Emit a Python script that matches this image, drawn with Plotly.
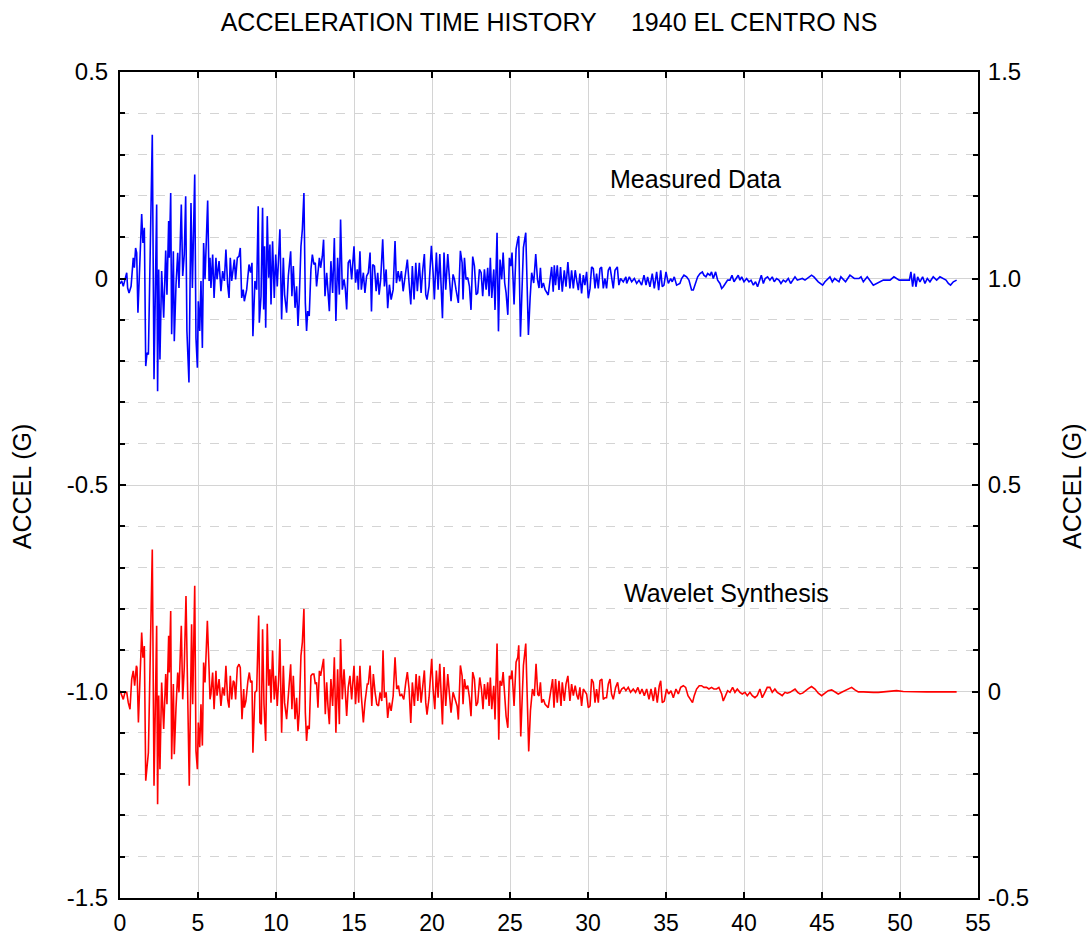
import plotly.graph_objects as go

# ---------------- data (time in s, acceleration in G) ----------------
measured_t = [
    0.00, 0.11, 0.21, 0.32, 0.43, 0.49, 0.58, 0.71, 0.85, 0.92, 1.00, 1.07, 1.15, 1.39, 1.47, 1.56,
    1.65, 1.73, 1.82, 2.07, 2.18, 2.35, 2.41, 2.48, 2.56, 2.67, 2.80, 2.93, 3.01, 3.12, 3.16, 3.25,
    3.31, 3.42, 3.48, 3.59, 3.70, 3.78, 3.93, 4.02, 4.12, 4.21, 4.29, 4.42, 4.55, 4.64, 4.79, 4.87,
    4.96, 5.02, 5.11, 5.19, 5.28, 5.36, 5.45, 5.62, 5.71, 5.77, 5.83, 5.94, 6.03, 6.15, 6.22, 6.35,
    6.47, 6.58, 6.69, 6.79, 6.90, 6.99, 7.07, 7.16, 7.26, 7.33, 7.41, 7.52, 7.63, 7.71, 7.80,
    7.90, 7.97, 8.12, 8.27, 8.37, 8.46, 8.52, 8.65, 8.76, 8.86, 8.93, 9.04, 9.14, 9.21, 9.27, 9.34,
    9.44, 9.53, 9.61, 9.68, 9.78, 9.89, 9.98, 10.08, 10.17, 10.25, 10.36, 10.47, 10.55, 10.68, 10.79,
    10.94, 11.02, 11.11, 11.22, 11.32, 11.41, 11.49, 11.60, 11.69, 11.79, 11.88, 11.96, 12.03, 12.13,
    12.24, 12.33, 12.43, 12.52, 12.60, 12.69, 12.78, 12.86, 12.97, 13.05, 13.14, 13.25, 13.33, 13.42,
    13.52, 13.63, 13.74, 13.84, 13.95, 14.06, 14.14, 14.25, 14.36, 14.44, 14.53, 14.63, 14.74, 14.85,
    15.00, 15.10, 15.21, 15.28, 15.38, 15.47, 15.60, 15.70, 15.81,
    15.92, 16.03, 16.12, 16.20, 16.31, 16.42, 16.52, 16.61, 16.71, 16.84, 16.95, 17.06, 17.16, 17.27,
    17.38, 17.51, 17.63, 17.72, 17.83, 17.93, 18.04, 18.15, 18.27, 18.42, 18.53, 18.64, 18.74, 18.85,
    18.96, 19.06, 19.19, 19.30, 19.41, 19.51, 19.60, 19.68, 19.81, 19.96, 20.07, 20.15, 20.28, 20.39,
    20.50, 20.58, 20.67, 20.77, 20.88, 21.01, 21.12, 21.22, 21.35, 21.44, 21.54, 21.69, 21.82, 21.93,
    21.99, 22.08, 22.18, 22.29, 22.40, 22.50, 22.61, 22.72, 22.83, 22.93, 23.04, 23.15, 23.25, 23.36,
    23.47, 23.57, 23.66, 23.74, 23.83, 23.96, 24.04, 24.17, 24.26, 24.36, 24.47, 24.56, 24.66, 24.75,
    24.86, 24.96, 25.05, 25.13, 25.26, 25.39, 25.50, 25.56, 25.67, 25.75, 25.86, 26.01, 26.18, 26.29,
    26.39, 26.52, 26.65, 26.76, 26.86, 26.95, 27.03, 27.14, 27.25,
    27.45, 27.56, 27.67, 27.77, 27.84, 27.92, 28.03, 28.14, 28.24, 28.35, 28.48, 28.59, 28.71, 28.84,
    28.95, 29.06, 29.18, 29.29, 29.38, 29.48, 29.59, 29.70, 29.80, 29.91, 30.02, 30.13, 30.23, 30.34,
    30.45, 30.55, 30.66, 30.77, 30.87, 30.98, 31.09, 31.19, 31.30, 31.41, 31.51, 31.62, 31.73, 31.88,
    31.98, 32.09, 32.26, 32.43, 32.48, 32.65, 32.80, 32.97, 33.12, 33.27, 33.44, 33.59, 33.72, 33.82,
    33.97, 34.12, 34.25, 34.40, 34.53, 34.66, 34.76, 34.87, 35.00, 35.15, 35.30, 35.40, 35.53, 35.68,
    35.89, 36.00, 36.15, 36.32, 36.47, 36.64, 36.75, 36.90, 37.03, 37.18, 37.33, 37.43, 37.56, 37.67,
    37.82, 37.92, 38.03, 38.18, 38.31, 38.46, 38.57, 38.67, 38.82, 38.95, 39.10, 39.23, 39.36, 39.48,
    39.63, 39.74, 39.85, 40.00, 40.17, 40.32, 40.45, 40.60, 40.74, 40.87, 40.98, 41.11, 41.24, 41.36,
    41.51, 41.66, 41.81, 41.94, 42.09, 42.24, 42.37, 42.52, 42.67, 42.84, 42.99, 43.12, 43.27, 43.42,
    43.74, 43.91, 44.19, 44.33, 44.48, 44.76, 45.04, 45.19, 45.51, 45.66, 45.81, 46.09, 46.21, 46.51,
    46.79, 47.07, 47.37, 47.50, 47.65, 47.90, 48.29, 48.50, 48.93, 49.36, 49.61, 49.95, 50.25, 50.60,
    50.70, 50.81, 50.92, 51.02, 51.13, 51.28, 51.45, 51.60, 51.75, 51.92, 52.13, 52.35, 52.56, 52.77,
    52.95, 53.10, 53.24, 53.42, 53.63,
]
measured_a = [
    -0.013, -0.006, -0.019, -0.002, 0.014, -0.023, -0.035, -0.019, 0.050, 0.026, 0.074, 0.062, -0.083, 0.156, 0.086, 0.123,
    -0.212, -0.180, -0.184, 0.348, -0.244, 0.179, -0.273, 0.022, -0.196, 0.018, -0.095, 0.068, -0.039, 0.139, 0.050, 0.207,
    -0.135, 0.066, -0.152, -0.015, 0.062, -0.023, 0.179, 0.006, 0.058, 0.199, -0.127, -0.252, 0.183, -0.023, 0.252, -0.144,
    -0.216, -0.055, -0.127, -0.006, -0.168, 0.086, -0.002, 0.189, -0.006, 0.050, -0.023, 0.058, -0.047, 0.050, -0.002, 0.042,
    -0.031, 0.018, -0.006, 0.070, -0.015, -0.047, 0.050, -0.006, 0.026, 0.046, -0.002, 0.050, 0.054, 0.074, -0.047,
    -0.027, -0.055, -0.027, 0.034, 0.014, 0.038, -0.140, -0.006, -0.027, 0.175, -0.107, -0.043, 0.171, -0.075, 0.078, -0.119,
    0.151, 0.002, 0.082, -0.063, 0.090, -0.047, 0.058, -0.019, 0.038, 0.119, -0.099, 0.050, -0.039, -0.083, 0.006,
    0.066, -0.043, 0.030, -0.071, -0.019, -0.115, -0.051, 0.078, 0.119, 0.207, -0.059, -0.127, -0.079, -0.091,
    0.022, 0.058, 0.034, 0.038, -0.019, 0.014, 0.050, 0.026, 0.054, 0.094, -0.043, 0.014, -0.035, -0.079,
    0.042, -0.035, 0.098, -0.103, 0.050, -0.039, 0.143, -0.027, -0.002, -0.023, -0.075, 0.038, 0.046, -0.002,
    0.078, -0.010, 0.022, -0.027, 0.066, -0.027, 0.014, -0.035, 0.006,
    0.014, 0.063, -0.080, 0.034, 0.030, -0.031, 0.014, -0.039, -0.002, 0.095, -0.019, 0.022, -0.072, -0.015,
    -0.051, -0.027, 0.091, -0.011, 0.018, -0.007, 0.018, -0.031, 0.010, 0.046, -0.011, -0.063, 0.030, -0.051,
    0.038, -0.031, 0.038, -0.035, 0.022, 0.059, -0.039, -0.051, -0.019, 0.079, 0.014, -0.051, 0.063, -0.027,
    0.059, -0.019, -0.096, 0.063, -0.027, 0.059, -0.015, -0.055, 0.010, -0.002, -0.027, -0.059, 0.067, 0.038,
    -0.051, 0.050, -0.002, 0.002, -0.019, -0.076, 0.053, 0.030, -0.039, -0.035, 0.022, 0.014, -0.043, 0.022,
    -0.027, 0.026, -0.043, 0.050, -0.047, 0.022, -0.076, 0.111, -0.128, 0.046, -0.002, 0.063, -0.011, -0.035,
    -0.088, 0.050, 0.030, 0.063, -0.063, 0.071, 0.095, 0.103, -0.141, -0.043, 0.075, 0.111, -0.137, -0.047,
    0.014, -0.011, 0.059, -0.002, -0.023, 0.026, -0.023, -0.011, -0.027,
    -0.040, 0.000, 0.028, -0.032, 0.032, -0.016, 0.032, -0.028, 0.028, -0.032, 0.020, -0.020, 0.040, -0.024,
    0.020, -0.024, 0.020, -0.008, -0.028, 0.012, -0.036, 0.008, -0.016, 0.016, -0.048, -0.024, 0.028, 0.024,
    -0.024, 0.012, -0.024, 0.024, 0.028, -0.024, 0.000, -0.024, 0.020, 0.028, -0.004, -0.024, 0.020, 0.028,
    -0.016, 0.000, -0.008, 0.004, -0.012, 0.004, -0.008, 0.000, -0.012, -0.004, -0.016, 0.008, -0.016, 0.004,
    -0.020, 0.012, -0.024, 0.016, -0.028, 0.020, -0.020, -0.016, 0.016, -0.012, 0.000, -0.008, 0.004, -0.016,
    -0.012, 0.000, 0.008, 0.004, -0.004, -0.028, -0.028, -0.008, 0.004, 0.012, 0.016, 0.008, 0.004, 0.012,
    0.008, 0.016, 0.000, 0.016, -0.004, -0.012, -0.024, -0.020, -0.012, -0.004, -0.004, 0.008, -0.008, 0.000,
    0.008, -0.004, 0.004, -0.008, 0.000, -0.008, -0.004, -0.016, -0.008, -0.020, -0.004, 0.008, -0.012, 0.000,
    0.004, -0.004, 0.004, -0.008, 0.000, -0.004, -0.012, -0.004, -0.008, 0.000, -0.012, -0.004, 0.004, -0.004,
    0.000, -0.004, 0.004, 0.008, 0.004, -0.008, -0.016, -0.008, 0.004, -0.008, 0.000, -0.008, 0.004, -0.008,
    0.008, 0.000, 0.000, 0.004, -0.008, 0.004, -0.016, -0.012, -0.004, -0.004, 0.004, -0.004, -0.004, -0.004,
    0.016, -0.020, 0.012, -0.020, 0.004, -0.008, 0.004, -0.012, 0.000, -0.008, 0.004, -0.004, 0.004, 0.000,
    -0.004, -0.012, -0.016, -0.008, -0.004,
]

synth_t = [
    0.00, 0.11, 0.21, 0.32, 0.43, 0.53, 0.64, 0.75, 0.85, 0.94, 1.05, 1.09, 1.18, 1.39, 1.47, 1.56,
    1.65, 1.73, 1.82, 2.07, 2.18, 2.35, 2.41, 2.48, 2.56, 2.67, 2.80, 2.93, 3.01, 3.12, 3.16, 3.25,
    3.31, 3.42, 3.48, 3.59, 3.70, 3.78, 3.93, 4.02, 4.12, 4.23, 4.34, 4.44, 4.59, 4.66, 4.79, 4.87,
    4.96, 5.02, 5.11, 5.19, 5.28, 5.36, 5.45, 5.60, 5.71, 5.77, 5.83, 5.94, 6.03, 6.15, 6.22, 6.35,
    6.47, 6.58, 6.69, 6.79, 6.90, 6.99, 7.07, 7.16, 7.26, 7.33, 7.41, 7.52, 7.63, 7.71, 7.82, 7.93,
    7.97, 8.07, 8.20, 8.29, 8.37, 8.46, 8.52, 8.65, 8.76, 8.89, 8.97, 9.06, 9.14, 9.23, 9.34,
    9.44, 9.53, 9.61, 9.68, 9.78, 9.89, 9.98, 10.08, 10.17, 10.25, 10.36, 10.47, 10.55, 10.68, 10.79,
    10.94, 11.02, 11.11, 11.22, 11.32, 11.41, 11.49, 11.60, 11.69, 11.79, 11.88, 11.96, 12.03, 12.13,
    12.24, 12.33, 12.43, 12.52, 12.60, 12.69, 12.78, 12.86, 12.97, 13.05, 13.16, 13.25, 13.33, 13.42,
    13.52, 13.63, 13.74, 13.84, 13.95, 14.06, 14.14, 14.25, 14.36, 14.44, 14.53, 14.63, 14.74, 14.85,
    15.00, 15.10, 15.21, 15.30, 15.38, 15.47, 15.60, 15.70, 15.85,
    15.92, 16.03, 16.14, 16.24, 16.35, 16.46, 16.57, 16.67, 16.78, 16.86, 16.95, 17.06, 17.16, 17.27,
    17.38, 17.51, 17.63, 17.74, 17.85, 17.95, 18.06, 18.19, 18.32, 18.42, 18.53, 18.64, 18.74, 18.87,
    18.98, 19.09, 19.19, 19.30, 19.41, 19.51, 19.60, 19.68, 19.81, 19.98, 20.07, 20.18, 20.28, 20.39,
    20.50, 20.58, 20.67, 20.77, 20.88, 21.01, 21.12, 21.22, 21.35, 21.48, 21.61, 21.69, 21.82, 21.93,
    21.99, 22.08, 22.18, 22.29, 22.40, 22.50, 22.61, 22.72, 22.83, 22.93, 23.06, 23.17, 23.27, 23.36,
    23.47, 23.57, 23.66, 23.74, 23.83, 23.96, 24.04, 24.17, 24.28, 24.36, 24.47, 24.56, 24.66, 24.75,
    24.86, 24.96, 25.05, 25.13, 25.26, 25.39, 25.50, 25.56, 25.69, 25.75, 25.86, 26.01, 26.20, 26.31,
    26.44, 26.56, 26.67, 26.78, 26.86, 26.95, 27.03, 27.14, 27.25,
    27.45, 27.60, 27.73, 27.82, 27.92, 28.03, 28.14, 28.27, 28.35, 28.48, 28.59, 28.71, 28.84, 28.95,
    29.06, 29.18, 29.29, 29.38, 29.48, 29.59, 29.70, 29.91, 30.02, 30.13, 30.23, 30.34, 30.45, 30.55,
    30.66, 30.77, 30.89, 30.98, 31.09, 31.19, 31.30, 31.41, 31.51, 31.62, 31.77, 31.90, 32.01, 32.16,
    32.30, 32.43, 32.58, 32.73, 32.90, 33.05, 33.20, 33.33, 33.46, 33.61, 33.76, 33.91, 34.04, 34.19,
    34.31, 34.44, 34.57, 34.66, 34.76, 34.89, 35.04, 35.17, 35.32, 35.47, 35.64, 35.79, 35.94, 36.11,
    36.26, 36.41, 36.54, 36.70, 36.81, 36.96, 37.13, 37.28, 37.43, 37.60, 37.75, 37.92, 38.07, 38.24,
    38.39, 38.57, 38.67, 38.82, 38.95, 39.10, 39.27, 39.42, 39.57, 39.74, 39.89, 40.06, 40.21, 40.38,
    40.53, 40.70, 40.85, 41.02, 41.17, 41.34, 41.49, 41.66, 41.81, 41.98, 42.13, 42.30, 42.45, 42.63,
    42.77, 42.95, 43.10, 43.27, 43.44, 43.59, 43.76, 43.93, 44.12, 44.33, 44.55, 44.76, 44.98, 45.19,
    45.40, 45.62, 45.83, 46.04, 46.26, 46.47, 46.68, 46.90, 47.11, 47.33, 47.65, 47.97, 48.29, 48.61,
    48.93, 49.36, 49.78, 50.21, 50.85, 51.71, 52.56, 53.63,
]
synth_a = [
    0.002, -0.010, -0.019, -0.002, -0.002, -0.027, -0.043, 0.030, 0.050, 0.014, 0.062, 0.058, -0.075, 0.143, 0.082, 0.110,
    -0.216, -0.184, -0.148, 0.344, -0.228, 0.159, -0.273, -0.010, -0.188, 0.022, -0.091, 0.042, -0.031, 0.135, 0.046, 0.195,
    -0.164, 0.018, -0.152, -0.039, 0.046, -0.002, 0.159, -0.019, 0.058, 0.231, -0.079, -0.228, 0.163, -0.031, 0.256, -0.144,
    -0.188, -0.075, -0.135, -0.031, -0.131, 0.070, 0.022, 0.171, 0.054, -0.019, -0.006, 0.046, -0.043, 0.050, -0.010, 0.030,
    -0.035, 0.010, -0.010, 0.062, -0.019, -0.039, 0.038, -0.019, 0.026, 0.022, -0.019, 0.058, 0.066, 0.058, -0.067, 0.006,
    -0.039, -0.023, 0.026, 0.046, 0.022, 0.026, -0.148, -0.002, 0.002, 0.184, -0.075, -0.079, 0.151, -0.031, -0.120,
    0.164, 0.014, 0.054, -0.027, 0.099, -0.019, 0.038, -0.035, 0.030, 0.127, -0.100, 0.062, -0.027, -0.067, -0.006,
    0.066, -0.043, 0.038, -0.067, -0.015, -0.096, -0.051, 0.087, 0.119, 0.200, -0.051, -0.120, -0.083, -0.091,
    0.038, 0.042, 0.042, 0.018, 0.022, -0.039, 0.050, 0.038, 0.058, 0.079, -0.055, 0.022, -0.035, -0.079,
    0.030, -0.035, 0.083, -0.100, 0.054, -0.079, 0.127, -0.019, 0.054, 0.002, -0.059, 0.010, 0.038, -0.019,
    0.062, -0.031, 0.038, -0.027, 0.062, -0.011, -0.075, -0.027, 0.018,
    0.018, 0.063, -0.035, 0.042, -0.002, -0.031, -0.035, -0.002, -0.023, 0.100, -0.015, -0.002, -0.064, -0.027,
    -0.047, -0.011, 0.083, 0.006, 0.014, -0.011, -0.007, -0.019, 0.022, 0.047, 0.006, -0.076, 0.022, -0.035,
    0.042, -0.023, 0.038, -0.027, 0.014, 0.051, -0.027, -0.056, -0.015, 0.079, 0.006, -0.043, 0.051, -0.015,
    0.067, -0.011, -0.080, 0.059, -0.035, 0.042, -0.002, -0.051, -0.002, -0.019, -0.035, -0.068, 0.063, 0.038,
    -0.031, 0.030, 0.006, 0.014, -0.015, -0.060, 0.047, 0.030, -0.035, -0.027, 0.034, 0.006, -0.043, 0.018,
    -0.019, 0.022, -0.035, 0.034, -0.043, 0.014, -0.068, 0.116, -0.117, 0.026, 0.014, 0.047, -0.023, -0.060,
    -0.088, 0.038, 0.030, 0.051, -0.035, 0.071, 0.083, 0.112, -0.109, -0.035, 0.063, 0.116, -0.145, -0.047,
    0.006, -0.011, 0.067, -0.007, -0.011, 0.022, -0.027, -0.019, -0.031,
    -0.039, -0.002, 0.030, -0.039, 0.030, -0.027, 0.026, -0.035, 0.022, -0.023, 0.018, 0.038, -0.023, 0.018,
    -0.010, 0.014, -0.010, -0.019, 0.010, -0.035, 0.006, -0.006, -0.039, -0.035, 0.030, 0.022, -0.027, 0.006,
    -0.027, 0.026, 0.030, -0.019, -0.015, -0.015, 0.018, 0.030, -0.006, -0.019, 0.010, 0.022, -0.006, 0.006,
    0.010, 0.002, 0.010, -0.002, 0.006, -0.002, 0.010, -0.006, 0.006, -0.010, 0.006, -0.019, 0.006, -0.023,
    0.010, -0.027, 0.014, 0.026, -0.027, -0.023, 0.006, -0.006, 0.002, -0.015, 0.006, -0.006, 0.010, 0.014,
    0.010, -0.010, -0.019, -0.027, -0.010, 0.006, 0.014, 0.014, 0.010, 0.010, 0.006, 0.010, 0.006, 0.006,
    0.010, -0.006, -0.023, -0.010, 0.002, -0.002, 0.010, -0.002, 0.006, -0.002, -0.006, -0.002, -0.010, -0.002,
    -0.010, -0.015, -0.010, 0.006, -0.015, -0.002, 0.010, 0.010, -0.002, 0.006, -0.002, -0.006, -0.010, -0.002,
    -0.004, -0.002, 0.002, 0.006, -0.002, -0.006, -0.004, 0.002, 0.007, 0.012, 0.006, -0.004, -0.010, -0.004,
    0.002, 0.004, -0.002, -0.006, -0.002, 0.002, 0.006, 0.010, 0.004, -0.001, -0.001, -0.002, -0.002, -0.002,
    -0.001, 0.002, 0.002, 0.000, -0.001, -0.001, -0.001, -0.001,
]

title_text = "ACCELERATION TIME HISTORY     1940 EL CENTRO NS"
x_ticks = [0, 5, 10, 15, 20, 25, 30, 35, 40, 45, 50, 55]
left_ticks = [-1.5, -1.0, -0.5, 0, 0.5]
left_labels = ["-1.5", "-1.0", "-0.5", "0", "0.5"]
right_ticks = [-0.5, 0, 0.5, 1.0, 1.5]
right_labels = ["-0.5", "0", "0.5", "1.0", "1.5"]

FONT = "Liberation Sans, Arial, sans-serif"
GRID = "#d4d4d4"

fig = go.Figure()
fig.add_trace(go.Scatter(x=measured_t, y=measured_a, mode="lines",
                         line=dict(color="#0000ff", width=1.6), yaxis="y", showlegend=False))
fig.add_trace(go.Scatter(x=synth_t, y=synth_a, mode="lines",
                         line=dict(color="#ff0000", width=1.6), yaxis="y2", showlegend=False))

fig.update_layout(
    width=1091, height=935,
    margin=dict(l=120, r=113, t=72, b=37, autoexpand=False),
    paper_bgcolor="white", plot_bgcolor="white",
    font=dict(family=FONT, size=24, color="black"),
    title=dict(text=title_text, x=0.5, xref="paper", y=1 - 22 / 935, yref="container",
               xanchor="center", yanchor="middle", font=dict(size=25)),
    xaxis=dict(range=[0, 55], tickvals=x_ticks, ticks="inside", ticklen=6, tickwidth=1.5,
               tickcolor="black", showline=True, linewidth=2, linecolor="black", mirror="ticks",
               showgrid=True, gridcolor=GRID, gridwidth=1, zeroline=False, automargin=False,
               tickfont=dict(size=23), ticklabelstandoff=3),
    yaxis=dict(range=[-1.5, 0.5], tickvals=left_ticks, ticktext=left_labels, ticks="inside",
               ticklen=6, tickwidth=1.5, tickcolor="black", showline=True, linewidth=2,
               linecolor="black", mirror=True, showgrid=True, gridcolor=GRID, gridwidth=1,
               zeroline=False, automargin=False, tickfont=dict(size=24), ticklabelstandoff=5,
               minor=dict(dtick=0.1, tick0=0, ticks="inside", ticklen=5, tickcolor="black",
                          showgrid=True, gridcolor=GRID, griddash="dash", gridwidth=1)),
    yaxis2=dict(range=[-0.5, 1.5], tickvals=right_ticks, ticktext=right_labels, overlaying="y",
                side="right", ticks="inside", ticklen=6, tickwidth=1.5, tickcolor="black",
                showline=True, linewidth=2, linecolor="black", showgrid=False, zeroline=False,
                automargin=False, tickfont=dict(size=24), ticklabelstandoff=3,
                minor=dict(dtick=0.1, tick0=0, ticks="inside", ticklen=5, tickcolor="black",
                           showgrid=False)),
    annotations=[
        dict(text="ACCEL (G)", xref="paper", yref="paper", x=-0.114, y=0.4976, textangle=-90,
             showarrow=False, xanchor="center", yanchor="middle", font=dict(size=25)),
        dict(text="ACCEL (G)", xref="paper", yref="paper", x=1.1096, y=0.4976, textangle=-90,
             showarrow=False, xanchor="center", yanchor="middle", font=dict(size=25)),
        dict(text="Measured Data", xref="x", yref="y", x=36.9, y=0.241, showarrow=False,
             xanchor="center", yanchor="middle", font=dict(size=25)),
        dict(text="Wavelet Synthesis", xref="x", yref="y", x=38.85, y=-0.761, showarrow=False,
             xanchor="center", yanchor="middle", font=dict(size=25)),
    ],
)

fig.write_html("out.html")
